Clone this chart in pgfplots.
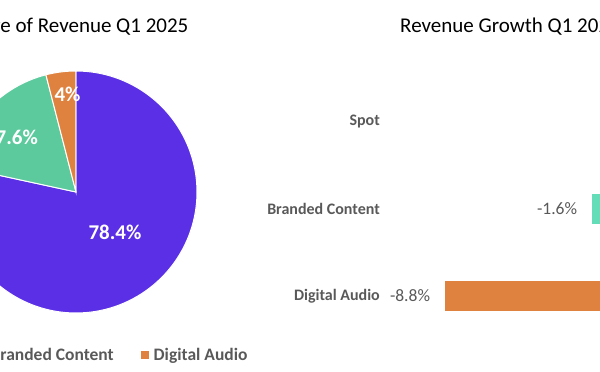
\documentclass[border=0pt]{standalone}
\usepackage{pgfplots}
\pgfplotsset{compat=1.18}
\usepackage{pgfplotstable}
\usepackage{fontspec}
\setmainfont{Carlito}
\definecolor{cpurple}{HTML}{5A2FE6}
\definecolor{cgreen}{HTML}{5CCA9D}
\definecolor{cgreenbar}{HTML}{63DCB8}
\definecolor{corange}{HTML}{E0823F}
\definecolor{ctext}{HTML}{595959}

% pie shares (percent)
\pgfplotstableread{
seg share
Spot 78.4
Branded 17.6
Digital 4.0
}\sharetable

\begin{document}
\begin{tikzpicture}[x=1pt,y=1pt]
\path[use as bounding box] (0,0) rectangle (600,372);
\clip (0,0) rectangle (600,372);
\pgfplotstablegetelem{0}{share}\of\sharetable \let\sA\pgfplotsretval
\pgfplotstablegetelem{1}{share}\of\sharetable \let\sB\pgfplotsretval
\pgfplotstablegetelem{2}{share}\of\sharetable \let\sC\pgfplotsretval
\pgfmathsetmacro{\aA}{90}
\pgfmathsetmacro{\aB}{90-3.6*\sA}
\pgfmathsetmacro{\aC}{\aB-3.6*\sB}
\pgfmathsetmacro{\aD}{\aC-3.6*\sC}

% ---------- Pie ----------
\begin{axis}[
  at={(76pt,180pt)}, anchor=center,
  scale only axis, width=242pt, height=242pt,
  xmin=-1, xmax=1, ymin=-1, ymax=1,
  hide axis, clip=false,
  legend columns=-1,
  legend style={at={(0.5,-0.1736)}, anchor=center, draw=none, fill=none,
    inner sep=0pt, nodes={inner sep=0pt, text=ctext},
    font=\bfseries\fontsize{17.5}{20}\selectfont,
    /tikz/every odd column/.append style={column sep=5pt},
    /tikz/every even column/.append style={column sep=27pt}},
  legend image code/.code={\fill[#1,draw=none] (0pt,-4pt) rectangle (8pt,4pt);},
]
\addplot[fill=cpurple, draw=white, line width=1pt, domain=\aB:\aA, samples=120, variable=\t]
  ({cos(t)},{sin(t)}) -- (axis cs:0,0) -- cycle;
\addlegendentry{Spot}
\addplot[fill=cgreen, draw=white, line width=1pt, domain=\aC:\aB, samples=60, variable=\t]
  ({cos(t)},{sin(t)}) -- (axis cs:0,0) -- cycle;
\addlegendentry{Branded Content}
\addplot[fill=corange, draw=white, line width=1pt, domain=\aD:\aC, samples=20, variable=\t]
  ({cos(t)},{sin(t)}) -- (axis cs:0,0) -- cycle;
\addlegendentry{Digital Audio}
\node[text=white, font=\bfseries\fontsize{21}{24}\selectfont] at (axis cs:0.322,-0.331) {78.4\%};
\node[text=white, font=\bfseries\fontsize{21}{24}\selectfont] at (axis cs:-0.533,0.455) {17.6\%};
\node[text=white, font=\bfseries\fontsize{21}{24}\selectfont] at (axis cs:-0.070,0.810) {4\%};
\end{axis}
\node[font=\fontsize{21}{24}\selectfont, text=black] at (75.5pt,345pt) {Share of Revenue Q1 2025};

% ---------- Bars ----------
% Spot growth is positive and lies outside the visible crop
\begin{axis}[
  at={(385pt,32.5pt)}, anchor=south west,
  scale only axis, width=301.2pt, height=261pt,
  xbar, bar width=30pt, bar shift=0pt,
  xmin=-11.75, xmax=3, ymin=-0.5, ymax=2.5, y dir=reverse,
  ytick={0,1,2}, yticklabels={Spot,Branded Content,Digital Audio},
  yticklabel style={font=\bfseries\fontsize{16}{19}\selectfont, text=ctext, inner sep=0pt, xshift=-5pt},
  xtick=\empty, major tick length=0pt,
  axis line style={draw=none},
  /pgf/number format/assume math mode=true,
  nodes near coords={\pgfmathprintnumber[fixed,fixed zerofill,precision=1]{\pgfplotspointmeta}\%},
  nodes near coords align=horizontal,
  every node near coord/.append style={font=\fontsize{17.5}{20}\selectfont, text=ctext, inner sep=0pt, xshift=-15pt},
  clip=false,
]
\addplot[fill=cpurple, draw=none, bar shift=0pt] coordinates {(2.5,0)};
\addplot[fill=cgreenbar, draw=none, bar shift=0pt] coordinates {(-1.6,1)};
\addplot[fill=corange, draw=none, bar shift=0pt] coordinates {(-8.8,2)};
\end{axis}
\node[font=\fontsize{21}{24}\selectfont, text=black] at (510pt,345pt) {Revenue Growth Q1 2025};
\end{tikzpicture}
\end{document}
